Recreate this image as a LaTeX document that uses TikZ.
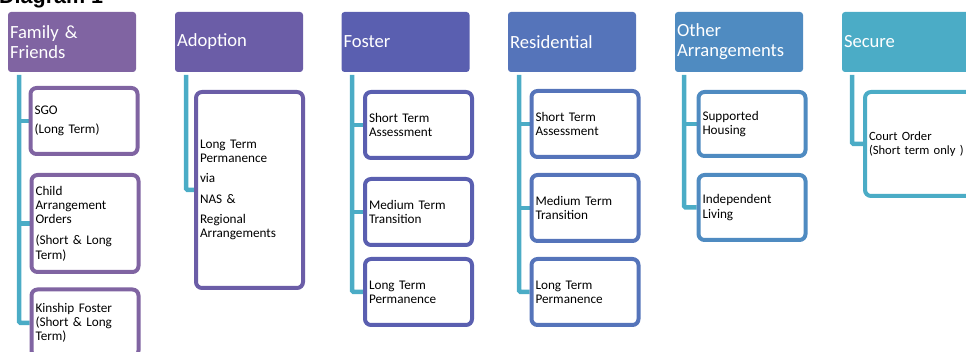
\documentclass[tikz,border=0pt]{standalone}
\usepackage{fontspec}
\setmainfont{Carlito}
\newfontfamily\titlefont{Liberation Sans}
\definecolor{cA}{HTML}{8064A2}
\definecolor{cB}{HTML}{6B5DA7}
\definecolor{cC}{HTML}{5A5FB0}
\definecolor{cD}{HTML}{5574BA}
\definecolor{cE}{HTML}{4F8BC1}
\definecolor{cF}{HTML}{4BACC6}
\definecolor{conn}{HTML}{4BACC6}
\pgfdeclarelayer{bg}
\pgfsetlayers{bg,main}
\tikzset{
  hdr/.style={fill=#1, text=white, rounded corners=3pt, minimum width=128pt, minimum height=60pt,
    text width=124pt, inner xsep=2pt, inner ysep=0pt, align=left,
    font=\fontsize{18.6}{20}\selectfont},
  subbox/.style={draw=#1, line width=4pt, fill=white, rounded corners=6pt, minimum width=107pt,
    text width=99pt, inner xsep=4pt, inner ysep=0pt, align=left,
    font=\fontsize{13.2}{14.2}\selectfont},
  connline/.style={draw=conn, line width=4.5pt, rounded corners=1.5pt},
}
\begin{document}
\begin{tikzpicture}[x=1pt,y=-1pt]
\useasboundingbox (0,0) rectangle (966,352);
\clip (0,0) rectangle (966,352);
\node[anchor=base west, inner sep=0pt, font=\titlefont\bfseries\fontsize{21.5}{24}\selectfont] (title) at (-1,4) {Diagram 1};

% headers
\node[hdr=cA] (h1) at (72,42) {Family \&\\Friends};
\node[hdr=cB] (h2) at (239,42) {Adoption};
\node[hdr=cC] (h3) at (405.5,42) {Foster};
\node[hdr=cD] (h4) at (572,42) {Residential};
\node[hdr=cE] (h5) at (739,42) {Other\\Arrangements};
\node[hdr=cF] (h6) at (906,42) {Secure};

% trunk tops
\coordinate (t1) at (19,75);
\coordinate (t2) at (186,75);
\coordinate (t3) at (352,75);
\coordinate (t4) at (519,75);
\coordinate (t5) at (684,75);
\coordinate (t6) at (852,75);

% boxes
\node[subbox=cA, minimum height=66pt] (b11) at (84,121) {SGO\\[5pt](Long Term)};
\node[subbox=cA, minimum height=97pt] (b12) at (85,223.5) {Child\\Arrangement\\Orders\\[7pt](Short \& Long\\Term)};
\node[subbox=cA, minimum height=67pt] (b13) at (85,323) {Kinship Foster\\(Short \& Long\\Term)};
\node[subbox=cB, minimum height=196pt] (b21) at (249.5,190) {Long Term\\Permanence\\[6pt]via\\[6pt]NAS \&\\[6pt]Regional\\Arrangements};
\node[subbox=cC, minimum height=66pt] (b31) at (418.5,125) {Short Term\\Assessment};
\node[subbox=cC, minimum height=66pt] (b32) at (418.5,212) {Medium Term\\Transition};
\node[subbox=cC, minimum height=66pt] (b33) at (418.5,292) {Long Term\\Permanence};
\node[subbox=cD, minimum height=66pt] (b41) at (585,124) {Short Term\\Assessment};
\node[subbox=cD, minimum height=66pt] (b42) at (585,208) {Medium Term\\Transition};
\node[subbox=cD, minimum height=66pt] (b43) at (585,292) {Long Term\\Permanence};
\node[subbox=cE, minimum height=64pt] (b51) at (752,124) {Supported\\Housing};
\node[subbox=cE, minimum height=65pt] (b52) at (752,207.5) {Independent\\Living};
\node[subbox=cF, minimum height=104pt, font=\fontsize{12.6}{14.2}\selectfont] (b61) at (918.5,144) {Court Order\\\mbox{(Short term only )}};

% connectors
\begin{pgfonlayer}{bg}
\path[connline] (t1) |- (b13.west);
\path[connline] (t1 |- b11.west) -- (b11.west);
\path[connline] (t1 |- b12.west) -- (b12.west);
\path[connline] (t2) |- (b21.west);
\path[connline] (t3) |- (b33.west);
\path[connline] (t3 |- b31.west) -- (b31.west);
\path[connline] (t3 |- b32.west) -- (b32.west);
\path[connline] (t4) |- (b43.west);
\path[connline] (t4 |- b41.west) -- (b41.west);
\path[connline] (t4 |- b42.west) -- (b42.west);
\path[connline] (t5) |- (b52.west);
\path[connline] (t5 |- b51.west) -- (b51.west);
\path[connline] (t6) |- (b61.west);
\end{pgfonlayer}
\end{tikzpicture}
\end{document}
